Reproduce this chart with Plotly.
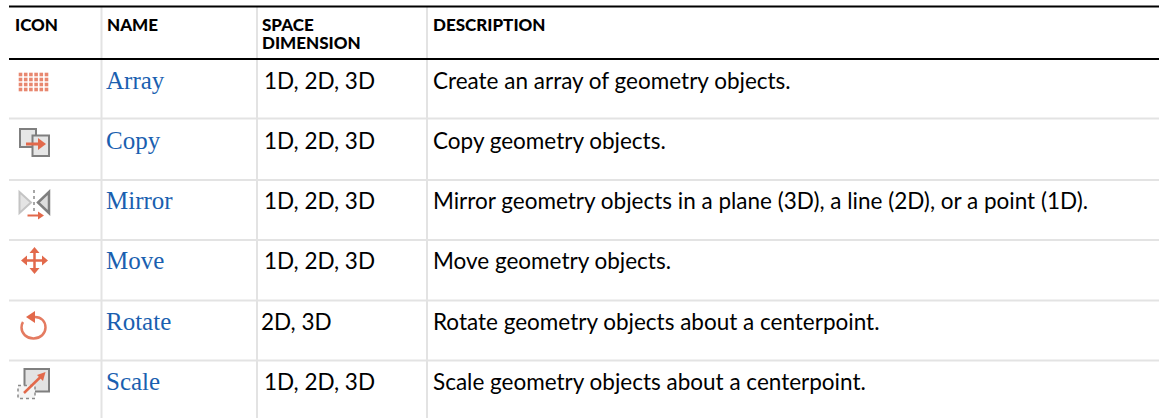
import plotly.graph_objects as go

W, H = 1159, 418
HEADERS = ["ICON", "NAME", "SPACE", "DIMENSION", "DESCRIPTION"]
NAMES = ["Array", "Copy", "Mirror", "Move", "Rotate", "Scale"]
DIMS = ["1D, 2D, 3D", "1D, 2D, 3D", "1D, 2D, 3D", "1D, 2D, 3D", "2D, 3D", "1D, 2D, 3D"]
DESCS = [
    "Create an array of geometry objects.",
    "Copy geometry objects.",
    "Mirror geometry objects in a plane (3D), a line (2D), or a point (1D).",
    "Move geometry objects.",
    "Rotate geometry objects about a centerpoint.",
    "Scale geometry objects about a centerpoint.",
]
ROW_Y = [83, 143, 203, 263, 324, 384]
ROW_LINES = [118.5, 180, 240, 300.5, 360.5]
COL_LINES = [101.5, 257, 427]
HEAD_X = [15, 107, 262, 262, 433]
HEAD_Y = [27, 27, 27, 45, 27]

ORANGE = "#e2694b"
GRAY = "#7f7f7f"
LIGHT = "#e3e3e3"
BODY = "Lato"
BLUE = "#1a5fb0"

fig = go.Figure()

# header text
fig.add_trace(go.Scatter(
    x=HEAD_X, y=HEAD_Y, text=HEADERS,
    mode="text", textposition="middle right",
    textfont=dict(family=BODY, size=17, color="#000000", weight=900),
    hoverinfo="skip", showlegend=False))
# name column
fig.add_trace(go.Scatter(
    x=[106] * 6, y=ROW_Y, text=NAMES, mode="text", textposition="middle right",
    textfont=dict(family="Liberation Serif", size=25, color=BLUE),
    hoverinfo="skip", showlegend=False))
# dimension column
fig.add_trace(go.Scatter(
    x=[264 if d.startswith("1D") else 261 for d in DIMS], y=ROW_Y, text=DIMS,
    mode="text", textposition="middle right",
    textfont=dict(family=BODY, size=22.5, color="#000000"),
    hoverinfo="skip", showlegend=False))
# description column
fig.add_trace(go.Scatter(
    x=[433] * 6, y=ROW_Y, text=DESCS, mode="text", textposition="middle right",
    textfont=dict(family=BODY, size=22.5, color="#000000"),
    hoverinfo="skip", showlegend=False))

# array icon: grid of small squares
gx, gy = [], []
for r in range(4):
    for c in range(6):
        gx.append(20.5 + c * 5.2)
        gy.append(74.5 + r * 5)
fig.add_trace(go.Scatter(
    x=gx, y=gy, mode="markers", hoverinfo="skip", showlegend=False,
    marker=dict(symbol="square", size=3.6, color=ORANGE, opacity=0.8, line=dict(width=0))))

shapes = []


def line(x0, y0, x1, y1, color, width, dash=None):
    shapes.append(dict(type="line", x0=x0, y0=y0, x1=x1, y1=y1, layer="below",
                       line=dict(color=color, width=width, dash=dash)))


def path(d, fill="rgba(0,0,0,0)", color="rgba(0,0,0,0)", width=0, dash=None):
    shapes.append(dict(type="path", path=d, fillcolor=fill, layer="below",
                       line=dict(color=color, width=width, dash=dash)))


def rect(x0, y0, x1, y1, fill, color, width, dash=None):
    shapes.append(dict(type="rect", x0=x0, y0=y0, x1=x1, y1=y1, fillcolor=fill, layer="below",
                       line=dict(color=color, width=width, dash=dash)))


# table rules
for y in ROW_LINES:
    line(9, y, W, y, LIGHT, 2)
for x in COL_LINES:
    line(x, 7, x, H, LIGHT, 2)
line(9, 6.5, W, 6.5, "#000000", 2)
line(9, 59, W, 59, "#000000", 2)

# copy icon
rect(20, 129, 36, 147, "#e6e6e6", GRAY, 2)
rect(32.5, 135.5, 49, 156, "#e6e6e6", GRAY, 2)
line(26, 144, 39, 144, ORANGE, 3)
path("M38,138 L46,144 L38,150 Z", ORANGE)

# mirror icon
path("M19.5,192 L19.5,213 L31,202.5 Z", "#e4e4e4", "#c4c4c4", 2)
path("M49,192 L49,213 L38,202.5 Z", "#dddddd", GRAY, 2.5)
line(34, 190, 34, 211, "#8a8a8a", 1.5, "dot")
line(27.5, 215.5, 39, 215.5, ORANGE, 2)
path("M38,211.5 L44,215.5 L38,219.5 Z", ORANGE)

# move icon
line(34.5, 252, 34.5, 269, ORANGE, 2.5)
line(26, 260.5, 43, 260.5, ORANGE, 2.5)
path("M34.5,247 L29.5,253 L39.5,253 Z", ORANGE)
path("M34.5,274 L29.5,268 L39.5,268 Z", ORANGE)
path("M21,260.5 L27,255.5 L27,265.5 Z", ORANGE)
path("M48,260.5 L42,255.5 L42,265.5 Z", ORANGE)

# rotate icon
path("M35,317 C41.5,317 45.5,321.5 45.5,327.5 C45.5,333.5 40.5,338.5 33.5,338.5 "
     "C26.5,338.5 21.5,333.5 21.5,327.5 C21.5,325.5 22,323.5 23,322",
     color="#e47b61", width=2.5)
path("M35,311 L35,323 L26,317 Z", ORANGE)

# scale icon
rect(24.5, 369, 49, 391.5, "#e3e3e3", GRAY, 2)
rect(18, 385.5, 35, 398.5, "#f4f4f4", "#8a8a8a", 1.5, "dot")
line(24, 393, 41, 376.5, ORANGE, 2.5)
path("M45.5,372 L43,381 L37,375 Z", ORANGE)

fig.update_layout(
    width=W, height=H, autosize=False,
    margin=dict(l=0, r=0, t=0, b=0),
    paper_bgcolor="#ffffff", plot_bgcolor="#ffffff",
    showlegend=False, shapes=shapes,
    xaxis=dict(range=[0, W], visible=False, fixedrange=True),
    yaxis=dict(range=[H, 0], visible=False, fixedrange=True),
)
fig.write_html("out.html", config={"displayModeBar": False},
               post_script="document.body.style.margin='0';document.body.style.overflow='hidden';")
